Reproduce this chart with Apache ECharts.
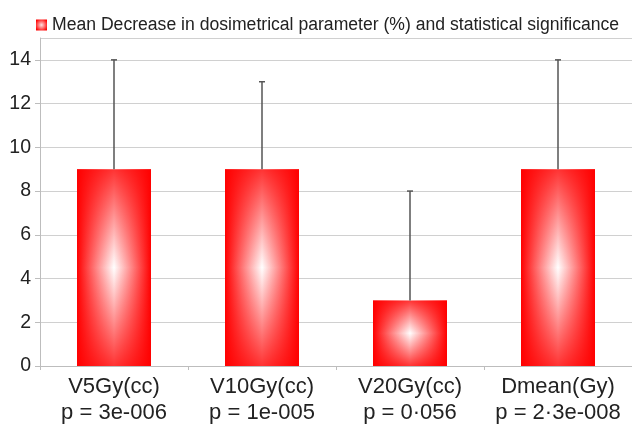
<!DOCTYPE html>
<html>
<head>
<meta charset="utf-8">
<script src="https://cdn.jsdelivr.net/npm/echarts@6/dist/echarts.min.js"></script>
<style>
html,body{margin:0;padding:0;background:#fff;}
#chart{width:632px;height:435px;}
</style>
</head>
<body>
<div id="chart"></div>
<script>
var categories = ['V5Gy(cc)', 'V10Gy(cc)', 'V20Gy(cc)', 'Dmean(Gy)'];
var pValues = ['p = 3e-006', 'p = 1e-005', 'p = 0·056', 'p = 2·3e-008'];
var meanDecrease = [9, 9, 3, 9];
var upperError = [14, 13, 8, 14];
var seriesName = 'Mean Decrease in dosimetrical parameter (%) and statistical significance';

var labels = categories.map(function (c, i) { return c + '\n' + pValues[i]; });
var errData = meanDecrease.map(function (v, i) { return [i, v, upperError[i]]; });

var hGrad = new echarts.graphic.LinearGradient(0, 0, 1, 0, [
  {offset: 0, color: '#ff0000'},
  {offset: 0.5, color: '#ffffff'},
  {offset: 1, color: '#ff0000'}
]);
var vGrad = new echarts.graphic.LinearGradient(0, 0, 0, 1, [
  {offset: 0, color: 'rgba(255,0,0,0.8)'},
  {offset: 0.5, color: 'rgba(255,0,0,0)'},
  {offset: 1, color: 'rgba(255,0,0,0.8)'}
]);
var iconGrad = new echarts.graphic.RadialGradient(0.5, 0.5, 0.6, [
  {offset: 0, color: '#ffe0e0'},
  {offset: 1, color: '#ff0000'}
]);

var chart = echarts.init(document.getElementById('chart'));
chart.setOption({
  animation: false,
  backgroundColor: '#ffffff',
  textStyle: {fontFamily: 'Liberation Sans, Arial, sans-serif'},
  legend: {
    data: [{name: seriesName, itemStyle: {color: iconGrad}}],
    left: 31,
    top: 11,
    icon: 'rect',
    itemWidth: 11,
    itemHeight: 11,
    textStyle: {fontSize: 17.6, color: '#222', fontFamily: 'Liberation Sans, Arial, sans-serif'}
  },
  grid: {left: 40, top: 38, width: 596, height: 328, containLabel: false},
  xAxis: {
    type: 'category',
    data: labels,
    axisLine: {lineStyle: {color: '#bdbdbd', width: 1}},
    axisTick: {show: true, length: 4, lineStyle: {color: '#bdbdbd'}},
    axisLabel: {fontSize: 22, color: '#222', lineHeight: 26, margin: 8, interval: 0}
  },
  yAxis: {
    type: 'value',
    min: 0,
    max: 15,
    interval: 2,
    axisLine: {show: true, lineStyle: {color: '#bdbdbd', width: 1}},
    axisTick: {show: true, length: 5, lineStyle: {color: '#bdbdbd'}},
    axisLabel: {fontSize: 19.5, color: '#222', margin: 9, showMaxLabel: false},
    splitLine: {show: true, lineStyle: {color: '#d0d0d0', width: 1}}
  },
  series: [
    {
      name: seriesName,
      type: 'bar',
      data: meanDecrease,
      barWidth: '50%',
      itemStyle: {color: hGrad}
    },
    {
      type: 'bar',
      data: meanDecrease,
      barWidth: '50%',
      barGap: '-100%',
      silent: true,
      itemStyle: {color: vGrad}
    },
    {
      type: 'custom',
      data: errData,
      z: 10,
      renderItem: function (params, api) {
        var lo = api.coord([api.value(0), api.value(1)]);
        var hi = api.coord([api.value(0), api.value(2)]);
        var cap = 3;
        var style = {stroke: '#555', lineWidth: 1.5};
        return {
          type: 'group',
          children: [
            {type: 'line', shape: {x1: lo[0], y1: lo[1], x2: hi[0], y2: hi[1]}, style: style},
            {type: 'line', shape: {x1: hi[0] - cap, y1: hi[1], x2: hi[0] + cap, y2: hi[1]}, style: style}
          ]
        };
      }
    }
  ]
});
</script>
</body>
</html>
